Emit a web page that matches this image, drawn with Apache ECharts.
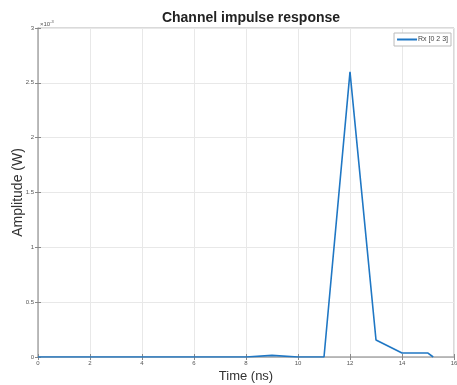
<!DOCTYPE html>
<html>
<head>
<meta charset="utf-8">
<script src="https://cdn.jsdelivr.net/npm/echarts@6/dist/echarts.min.js"></script>
<style>
  html, body { margin: 0; padding: 0; background: #fff; }
  #chart { width: 457px; height: 385px; }
</style>
</head>
<body>
<div id="chart"></div>
<script>
// 数据（时间 ns，幅值 ×10^-3 W）
var timeNs = [0, 1, 2, 3, 4, 5, 6, 7, 8, 9, 10, 11, 12, 13, 14, 15, 15.2];
var amplitudeE3 = [0, 0, 0, 0, 0, 0, 0, 0, 0, 0.015, 0, 0, 2.6, 0.155, 0.036, 0.036, 0];
var xTicks = [0, 2, 4, 6, 8, 10, 12, 14, 16];
var yTicks = [0, 0.5, 1, 1.5, 2, 2.5, 3];
var seriesName = 'Rx [0 2 3]';

var points = timeNs.map(function (t, i) { return [t, amplitudeE3[i]]; });

var chart = echarts.init(document.getElementById('chart'));
var axisColor = '#b5b5b5';
var labelColor = '#555';
var fontFamily = 'Liberation Sans, Arial, sans-serif';

var option = {
    animation: false,
    title: {
        text: 'Channel impulse response',
        left: 246,
        textAlign: 'center',
        top: 6,
        textStyle: { fontSize: 14, fontWeight: 'bold', color: '#222', fontFamily: fontFamily }
    },
    legend: {
        data: [seriesName],
        right: 6,
        top: 33,
        orient: 'vertical',
        itemWidth: 20,
        itemHeight: 2,
        itemGap: 2,
        padding: [3, 3, 3, 3],
        borderColor: '#bbb',
        borderWidth: 1,
        backgroundColor: '#fff',
        textStyle: { fontSize: 7, color: '#444', fontFamily: fontFamily, padding: [0, 0, 0, -4] },
        icon: 'rect'
    },
    grid: {
        left: 38, right: 3, top: 28, bottom: 28,
        outerBoundsMode: 'none',
        containLabel: false,
        show: true,
        borderColor: axisColor,
        borderWidth: 1,
        backgroundColor: '#fff'
    },
    xAxis: [{
        type: 'value',
        min: 0, max: 16, interval: 2,
        name: 'Time (ns)',
        nameLocation: 'middle',
        nameGap: 13,
        nameMoveOverlap: false,
        nameTextStyle: { fontSize: 13, color: '#333', fontFamily: fontFamily },
        axisLine: { lineStyle: { color: axisColor, width: 1.5 } },
        axisTick: { inside: true, length: 3, lineStyle: { color: '#888' } },
        axisLabel: { fontSize: 6, color: labelColor, margin: 3, fontFamily: fontFamily },
        splitLine: { show: true, lineStyle: { color: '#e8e8e8' } }
    }, {
        type: 'value',
        position: 'top',
        min: 0, max: 16, interval: 2,
        axisLine: { show: true, lineStyle: { color: axisColor } },
        axisTick: { inside: true, length: 3, lineStyle: { color: '#888' } },
        axisLabel: { show: false },
        splitLine: { show: false }
    }],
    yAxis: [{
        type: 'value',
        min: 0, max: 3, interval: 0.5,
        name: 'Amplitude (W)',
        nameLocation: 'middle',
        nameGap: 13,
        nameMoveOverlap: false,
        nameTextStyle: { fontSize: 14, color: '#333', fontFamily: fontFamily },
        axisLine: { show: true, lineStyle: { color: axisColor, width: 1.5 } },
        axisTick: { show: true, inside: true, length: 3, lineStyle: { color: '#888' } },
        axisLabel: { fontSize: 6, color: labelColor, margin: 4, fontFamily: fontFamily },
        splitLine: { show: true, lineStyle: { color: '#e8e8e8' } }
    }, {
        type: 'value',
        position: 'right',
        min: 0, max: 3, interval: 0.5,
        axisLine: { show: true, lineStyle: { color: axisColor } },
        axisTick: { show: true, inside: true, length: 3, lineStyle: { color: '#888' } },
        axisLabel: { show: false },
        splitLine: { show: false }
    }],
    graphic: [{
        type: 'text',
        left: 40,
        top: 20,
        style: {
            text: '×10{sup|-3}',
            fontSize: 6,
            fill: labelColor,
            fontFamily: fontFamily,
            rich: { sup: { fontSize: 4, verticalAlign: 'top', padding: [0, 0, 4, 0], fill: labelColor } }
        }
    }],
    series: [{
        name: seriesName,
        type: 'line',
        data: points,
        showSymbol: false,
        symbol: 'none',
        lineStyle: { color: '#1f77c4', width: 1.6 },
        itemStyle: { color: '#1f77c4' }
    }]
};
chart.setOption(option);
</script>
</body>
</html>
